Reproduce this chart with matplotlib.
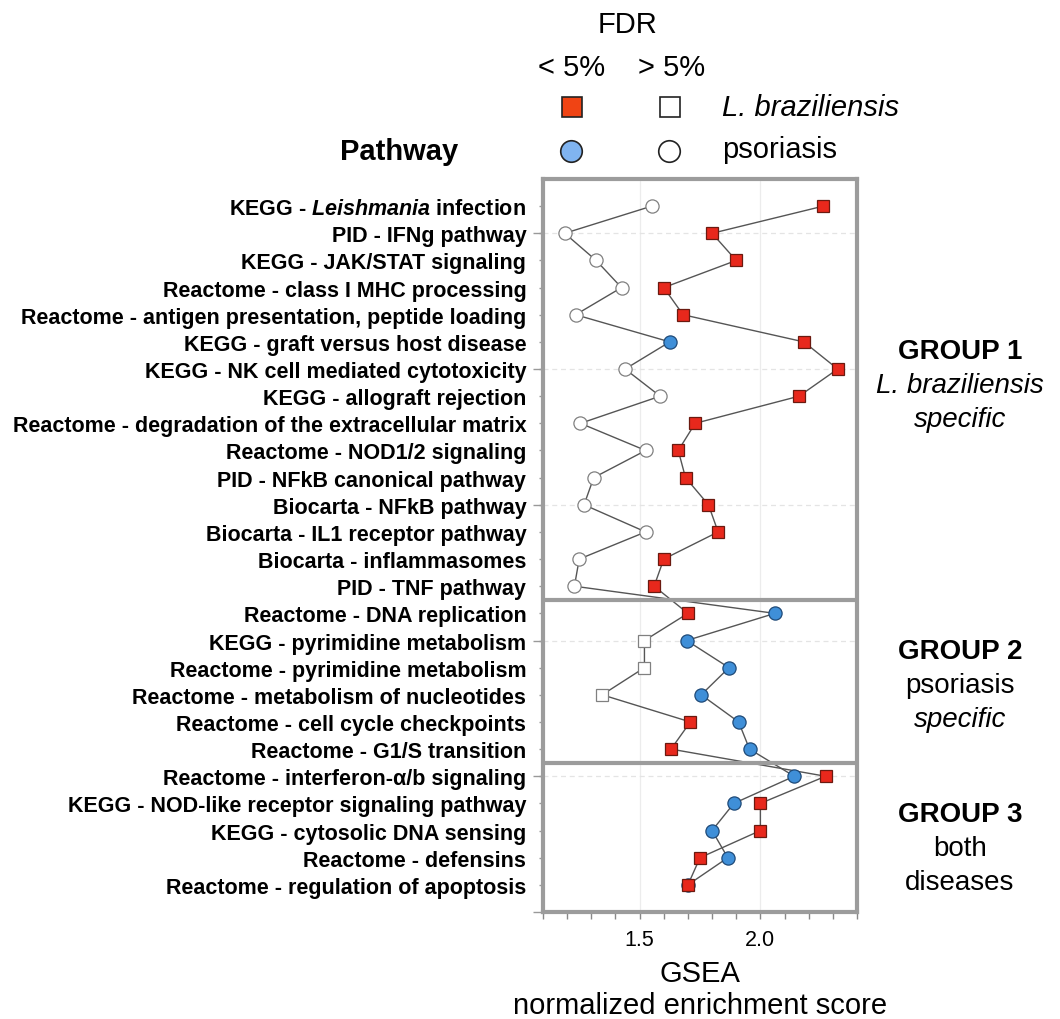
import matplotlib
matplotlib.use("Agg")
import matplotlib.pyplot as plt
from matplotlib.lines import TICKLEFT
from matplotlib.ticker import MultipleLocator

plt.rcParams["font.family"] = ["Liberation Sans", "DejaVu Sans"]
plt.rcParams["mathtext.fontset"] = "custom"
plt.rcParams["mathtext.it"] = "Liberation Sans:italic:bold"
plt.rcParams["mathtext.rm"] = "Liberation Sans:bold"

# --- data ---
pathways = [
    "KEGG - $\\mathit{Leishmania}$ infection",
    "PID - IFNg pathway",
    "KEGG - JAK/STAT signaling",
    "Reactome - class I MHC processing",
    "Reactome - antigen presentation, peptide loading",
    "KEGG - graft versus host disease",
    "KEGG - NK cell mediated cytotoxicity",
    "KEGG - allograft rejection",
    "Reactome - degradation of the extracellular matrix",
    "Reactome - NOD1/2 signaling",
    "PID - NFkB canonical pathway",
    "Biocarta - NFkB pathway",
    "Biocarta - IL1 receptor pathway",
    "Biocarta - inflammasomes",
    "PID - TNF pathway",
    "Reactome - DNA replication",
    "KEGG - pyrimidine metabolism",
    "Reactome - pyrimidine metabolism",
    "Reactome - metabolism of nucleotides",
    "Reactome - cell cycle checkpoints",
    "Reactome - G1/S transition",
    "Reactome - interferon-α/b signaling",
    "KEGG - NOD-like receptor signaling pathway",
    "KEGG - cytosolic DNA sensing",
    "Reactome - defensins",
    "Reactome - regulation of apoptosis",
]
lb_nes = [2.26, 1.80, 1.90, 1.60, 1.68, 2.18, 2.32, 2.16, 1.73, 1.66, 1.69, 1.785, 1.825,
          1.60, 1.56, 1.70, 1.52, 1.52, 1.345, 1.71, 1.63, 2.27, 2.00, 2.00, 1.75, 1.70]
lb_sig = [True] * 16 + [False] * 3 + [True] * 7
ps_nes = [1.55, 1.19, 1.32, 1.425, 1.235, 1.625, 1.44, 1.585, 1.255, 1.525, 1.31, 1.27, 1.525,
          1.25, 1.23, 2.06, 1.695, 1.87, 1.755, 1.91, 1.955, 2.14, 1.89, 1.80, 1.865, 1.70]
ps_sig = [False] * 5 + [True] + [False] * 9 + [True] * 11
group_breaks = [15.5, 21.5]
x_ticks = [1.5, 2.0]

RED, RED_EDGE = "#e8281c", "#6a1a10"
BLUE, BLUE_EDGE = "#3f8fd8", "#1f4a78"
FRAME = "#9c9c9c"

rows = list(range(1, len(pathways) + 1))

fig = plt.figure(figsize=(10.6, 10.2), dpi=100)
ax = fig.add_axes([543 / 1060, 107 / 1020, 314 / 1060, 733 / 1020])

# faint grid
for x in x_ticks:
    ax.axvline(x, color="#ececec", lw=0.9, zorder=0)
for y in [2, 7, 12, 17, 22]:
    ax.axhline(y, color="#e4e4e4", lw=0.9, ls=(0, (4, 3)), zorder=0)

ax.plot(ps_nes, rows, color="#555555", lw=1.0, zorder=2)
ax.plot(lb_nes, rows, color="#555555", lw=1.0, zorder=2)
for x, y, s in zip(ps_nes, rows, ps_sig):
    ax.plot(x, y, "o", ms=9.5, mfc=BLUE if s else "white",
            mec=BLUE_EDGE if s else "#808080", mew=0.9, zorder=3)
for x, y, s in zip(lb_nes, rows, lb_sig):
    ax.plot(x, y, "s", ms=9, mfc=RED if s else "white",
            mec=RED_EDGE if s else "#808080", mew=0.9, zorder=4)

for b in group_breaks:
    ax.axhline(b, color=FRAME, lw=3, zorder=5)

ax.set_xlim(1.1, 2.4)
ax.set_ylim(27, 0)
ax.set_xticks(x_ticks)
ax.set_xticklabels([f"{v:.1f}" for v in x_ticks], fontsize=15.5)
ax.xaxis.set_minor_locator(MultipleLocator(0.1))
ax.tick_params(axis="x", which="both", direction="out", length=5, width=1,
               color="#888888", pad=7)
ax.set_yticks(rows)
ax.set_yticklabels(pathways, fontsize=15.5, fontweight="bold")
ax.tick_params(axis="y", direction="out", length=3, width=1, color="#999999", pad=9)
# longer ticks every fifth row
ax.plot([0] * 6, [2, 7, 12, 17, 22, 27], ls="none", marker=TICKLEFT, ms=7,
        mew=1, color="#999999", transform=ax.get_yaxis_transform(), clip_on=False)
for sp in ax.spines.values():
    sp.set_color(FRAME)
    sp.set_linewidth(3)

ax.set_xlabel("GSEA\nnormalized enrichment score", fontsize=21, labelpad=7,
              linespacing=1.15)

# overlay in pixel coordinates for legend and side labels
lay = fig.add_axes([0, 0, 1, 1], zorder=-1)
lay.set_xlim(0, 1060)
lay.set_ylim(1020, 0)
lay.axis("off")

lay.text(627, 25, "FDR", fontsize=21, ha="center", va="center")
lay.text(572, 68, "< 5%", fontsize=21, ha="center", va="center")
lay.text(672, 68, "> 5%", fontsize=21, ha="center", va="center")
lay.plot(572, 108, "s", ms=14, mfc="#f04414", mec="#222222", mew=1.2)
lay.plot(670, 108, "s", ms=14, mfc="white", mec="#222222", mew=1.2)
lay.plot(571, 152, "o", ms=15.5, mfc="#80b4f0", mec="#222222", mew=1.2)
lay.plot(669, 152, "o", ms=15.5, mfc="white", mec="#222222", mew=1.2)
lay.text(722, 108, "L. braziliensis", fontsize=21, style="italic", va="center")
lay.text(722, 150, "psoriasis", fontsize=21, va="center")
lay.text(399, 152, "Pathway", fontsize=21, fontweight="bold", ha="center", va="center")

groups = [
    (352, [("GROUP 1", "bold", "normal"), ("L. braziliensis", "normal", "italic"),
           ("specific", "normal", "italic")]),
    (652, [("GROUP 2", "bold", "normal"), ("psoriasis", "normal", "normal"),
           ("specific", "normal", "italic")]),
    (815, [("GROUP 3", "bold", "normal"), ("both", "normal", "normal"),
           ("diseases", "normal", "normal")]),
]
for y0, lines in groups:
    for i, (txt, wt, st) in enumerate(lines):
        lay.text(960, y0 + i * 34, txt, fontsize=20, fontweight=wt, style=st,
                 ha="center", va="center")

fig.savefig("out.png", dpi=100, facecolor="white")
